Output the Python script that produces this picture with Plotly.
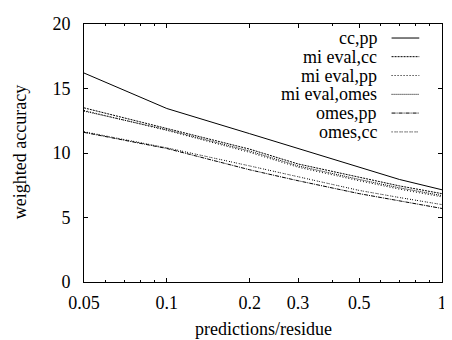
import plotly.graph_objects as go

# ---- data ----
x_vals = [0.05, 0.1, 0.2, 0.3, 0.5, 0.7, 1.0]
series_names = ["cc,pp", "mi eval,cc", "mi eval,pp", "mi eval,omes", "omes,pp", "omes,cc"]
cc_pp = [16.2, 13.45, 11.5, 10.35, 8.85, 7.95, 7.15]
mi_eval_cc = [13.5, 11.9, 10.3, 9.15, 8.1, 7.45, 6.85]
mi_eval_pp = [13.3, 11.75, 10.05, 8.9, 7.85, 7.2, 6.6]
mi_eval_omes = [13.25, 11.8, 10.15, 9.0, 7.95, 7.3, 6.7]
omes_pp = [11.6, 10.35, 8.7, 7.85, 6.85, 6.3, 5.7]
omes_cc = [11.65, 10.4, 9.0, 8.15, 7.1, 6.55, 6.0]
series_values = [cc_pp, mi_eval_cc, mi_eval_pp, mi_eval_omes, omes_pp, omes_cc]
x_tick_vals = [0.05, 0.1, 0.2, 0.3, 0.5, 1]
x_tick_text = ["0.05", "0.1", "0.2", "0.3", "0.5", "1"]
x_minor_vals = [0.06, 0.07, 0.08, 0.09, 0.4, 0.6, 0.7, 0.8, 0.9]
y_tick_vals = [0, 5, 10, 15, 20]

dashes = ["solid", "2px,1px", "1px,2px", "1px,1px", "4px,1px,1px,1px", "1px,2px,1px,1px"]

FONT = "Times New Roman, Liberation Serif, serif"
OFF = 8  # page body margin
W, H = 452 - OFF, 340 - OFF
L, R, T, B = 84 - OFF, 6, 19 - OFF, 58
pw, ph = W - L - R, H - T - B

def px_x(p):
    return (p - OFF - L) / pw

def px_y(q):
    return (H - B - (q - OFF)) / ph

fig = go.Figure()
for name, vals, d in zip(series_names, series_values, dashes):
    fig.add_trace(go.Scatter(x=x_vals, y=vals, mode="lines", name=name,
                             line=dict(color="black", width=1, dash=d),
                             showlegend=False))

# manual gnuplot-style legend (text right, sample on the right)
row_y = [33.3, 52.3, 71.5, 90.7, 109.8, 129.0]
text_right = 382
s0, s1 = 395, 423
shapes = []
annotations = []
for name, d, yy in zip(series_names, dashes, row_y):
    yp = px_y(yy)
    annotations.append(dict(text=name, xref="paper", yref="paper",
                            x=px_x(text_right), y=yp, xanchor="right", yanchor="middle",
                            showarrow=False, font=dict(family=FONT, size=18, color="black")))
    shapes.append(dict(type="line", xref="paper", yref="paper",
                       x0=px_x(s0), x1=px_x(s1), y0=yp, y1=yp,
                       line=dict(color="black", width=1, dash=d)))

annotations.append(dict(text="weighted accuracy", xref="paper", yref="paper",
                        x=px_x(19), y=px_y(150), xanchor="center", yanchor="middle", textangle=-90,
                        showarrow=False, font=dict(family=FONT, size=18, color="black")))
annotations.append(dict(text="predictions/residue", xref="paper", yref="paper",
                        x=px_x(265), y=px_y(330), xanchor="center", yanchor="middle",
                        showarrow=False, font=dict(family=FONT, size=18, color="black")))

fig.update_layout(
    width=W, height=H,
    margin=dict(l=L, r=R, t=T, b=B, pad=0),
    paper_bgcolor="white", plot_bgcolor="white",
    font=dict(family=FONT, size=18, color="black"),
    shapes=shapes, annotations=annotations,
    xaxis=dict(type="log", range=[-1.30103, 0.0001], tickvals=x_tick_vals, ticktext=x_tick_text,
               ticks="inside", ticklen=4, tickwidth=1, tickcolor="black",
               showline=True, linecolor="black", linewidth=1, mirror="allticks",
               showgrid=False, zeroline=False, ticklabelstandoff=4, ticklabeloverflow="allow",
               minor=dict(tickvals=x_minor_vals, ticks="inside", ticklen=2,
                          tickcolor="black", showgrid=False)),
    yaxis=dict(range=[0, 20.001], tickvals=y_tick_vals,
               ticks="inside", ticklen=4, tickwidth=1, tickcolor="black",
               showline=True, linecolor="black", linewidth=1, mirror="allticks",
               showgrid=False, zeroline=False, ticklabelstandoff=9, ticklabeloverflow="allow"),
)

fig.write_html("out.html")
